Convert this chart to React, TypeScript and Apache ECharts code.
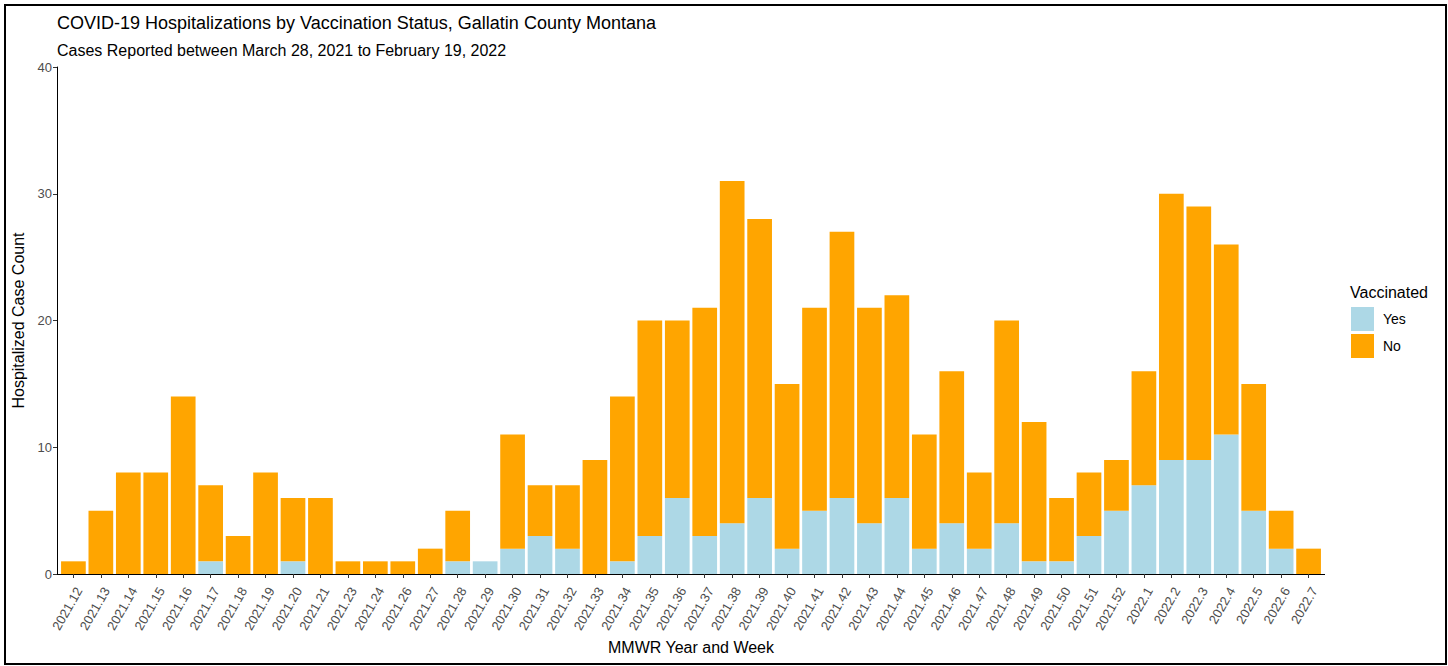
import React, { useEffect, useRef } from "react";
import * as echarts from "echarts";

const categories = [
  "2021.12", "2021.13", "2021.14", "2021.15", "2021.16", "2021.17", "2021.18", "2021.19", "2021.20", "2021.21",
  "2021.23", "2021.24", "2021.26", "2021.27", "2021.28", "2021.29", "2021.30", "2021.31", "2021.32", "2021.33",
  "2021.34", "2021.35", "2021.36", "2021.37", "2021.38", "2021.39", "2021.40", "2021.41", "2021.42", "2021.43",
  "2021.44", "2021.45", "2021.46", "2021.47", "2021.48", "2021.49", "2021.50", "2021.51", "2021.52", "2022.1",
  "2022.2", "2022.3", "2022.4", "2022.5", "2022.6", "2022.7",
];

const vaccinatedYes = [
  0, 0, 0, 0, 0, 1, 0, 0, 1, 0,
  0, 0, 0, 0, 1, 1, 2, 3, 2, 0,
  1, 3, 6, 3, 4, 6, 2, 5, 6, 4,
  6, 2, 4, 2, 4, 1, 1, 3, 5, 7,
  9, 9, 11, 5, 2, 0,
];

const vaccinatedNo = [
  1, 5, 8, 8, 14, 6, 3, 8, 5, 6,
  1, 1, 1, 2, 4, 0, 9, 4, 5, 9,
  13, 17, 14, 18, 27, 22, 13, 16, 21, 17,
  16, 9, 12, 6, 16, 11, 5, 5, 4, 9,
  21, 20, 15, 10, 3, 2,
];

const yTicks = [0, 10, 20, 30, 40];

const FONT = "Liberation Sans, Arial, sans-serif";

export default function App() {
  const ref = useRef<HTMLDivElement>(null);

  useEffect(() => {
    if (!ref.current) return;
    const chart = echarts.init(ref.current, undefined, { renderer: "svg" });
    const plotL = 57;
    const plotR = 1325;
    const n = categories.length;
    const unit = (plotR - plotL) / (n + 1.2);
    const pad = unit * 0.1;

    chart.setOption({
      animation: false,
      backgroundColor: "#ffffff",
      textStyle: { fontFamily: FONT },
      grid: {
        left: plotL + pad,
        right: 1448 - plotR + pad,
        top: 67,
        bottom: 666 - 574,
        containLabel: false,
      },
      legend: {
        data: ["Yes", "No"],
        orient: "vertical",
        left: 1351,
        top: 307,
        padding: 0,
        itemWidth: 23,
        itemHeight: 24,
        itemGap: 3,
        icon: "rect",
        textStyle: { fontFamily: FONT, fontSize: 14, color: "#000000", padding: [3, 0, 0, 4] },
      },
      xAxis: {
        type: "category",
        data: categories,
        name: "MMWR Year and Week",
        nameLocation: "middle",
        nameGap: 64,
        nameTextStyle: { fontFamily: FONT, fontSize: 16, color: "#000000" },
        axisLine: { show: false },
        axisTick: { show: true, alignWithLabel: true, length: 4, lineStyle: { color: "#333333" } },
        axisLabel: {
          rotate: 60,
          interval: 0,
          margin: 11,
          verticalAlign: "top",
          fontFamily: FONT,
          fontSize: 13,
          color: "#4D4D4D",
        },
      },
      yAxis: {
        type: "value",
        min: 0,
        max: 40,
        interval: 10,
        offset: pad,
        name: "Hospitalized Case Count",
        nameLocation: "middle",
        nameGap: 27,
        nameRotate: 90,
        nameTextStyle: { fontFamily: FONT, fontSize: 16, color: "#000000" },
        axisLine: { show: true, lineStyle: { color: "#000000", width: 1 } },
        axisTick: { show: true, length: 4, lineStyle: { color: "#333333" } },
        axisLabel: {
          margin: 5,
          fontFamily: FONT,
          fontSize: 13,
          color: "#4D4D4D",
          formatter: (v: number) => (yTicks.includes(v) ? String(v) : ""),
        },
        splitLine: { show: false },
      },
      series: [
        {
          name: "Yes",
          type: "bar",
          stack: "total",
          data: vaccinatedYes,
          barCategoryGap: "10%",
          itemStyle: { color: "#ADD8E6" },
        },
        {
          name: "No",
          type: "bar",
          stack: "total",
          data: vaccinatedNo,
          barCategoryGap: "10%",
          itemStyle: { color: "#FFA500" },
        },
      ],
      graphic: [
        {
          type: "rect",
          shape: { x: 5, y: 5, width: 1441, height: 659 },
          style: { fill: "none", stroke: "#000000", lineWidth: 2 },
          silent: true,
        },
        {
          type: "line",
          shape: { x1: plotL, y1: 574.5, x2: plotR, y2: 574.5 },
          style: { stroke: "#000000", lineWidth: 1 },
          silent: true,
        },
        {
          type: "text",
          left: 57,
          top: 14,
          style: {
            text: "COVID-19 Hospitalizations by Vaccination Status, Gallatin County Montana",
            fontFamily: FONT,
            fontSize: 18,
            fill: "#000000",
          },
        },
        {
          type: "text",
          left: 57,
          top: 42,
          style: {
            text: "Cases Reported between March 28, 2021 to February 19, 2022",
            fontFamily: FONT,
            fontSize: 16,
            fill: "#000000",
          },
        },
        {
          type: "text",
          left: 1350,
          top: 284,
          style: {
            text: "Vaccinated",
            fontFamily: FONT,
            fontSize: 16,
            fill: "#000000",
          },
        },
      ],
    });

    return () => chart.dispose();
  }, []);

  return (
    <div
      ref={ref}
      style={{ position: "fixed", left: 0, top: 0, width: 1448, height: 666, background: "#fff" }}
    />
  );
}
